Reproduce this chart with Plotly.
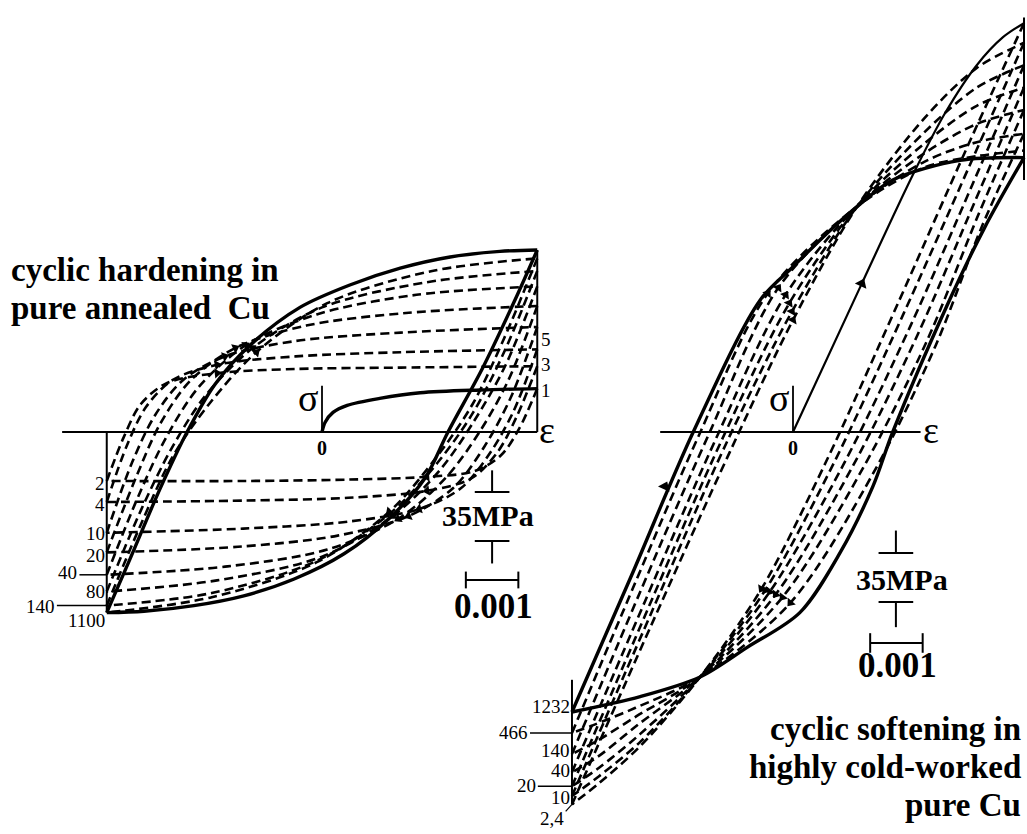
import math
import plotly.graph_objects as go

# ---------------- drawing scale ----------------
# strain is given in units of 1e-3, stress in MPa
PX_PER_MILLISTRAIN = 52.5
PX_PER_MPA = 1.4
W, H = 1027, 834
LEFT_ORIGIN_PX = (322, 432)
RIGHT_ORIGIN_PX = (793, 432)

# ---------------- left panel: cyclic hardening (annealed Cu) ----------------
L_EPS_MIN, L_EPS_MAX = -4.1, 4.1
L_TENS_CYCLES = [1, 3, 5, 9, 19, 39, 79, 139, 1099]
L_TENS_PEAKS = [31, 47, 59, 75, 90, 104, 115, 124, 130]
L_COMP_CYCLES = [2, 4, 10, 20, 40, 80, 140, 1100]
L_COMP_PEAKS = [-35, -50, -72, -86, -102, -114, -124, -129]

# first (monotonic) loading, interior points
L_MONO = [(0.06, 7), (0.21, 14), (0.48, 19), (1.10, 24), (1.87, 28), (3.01, 30)]

# reloading branches: comp peak i -> tension peak i+1 (last one = stable loop)
L_UP = [
    [(-3.78, -4), (-3.45, 20), (-2.95, 35), (-2.00, 42), (-0.50, 45), (1.50, 46)],
    [(-3.72, -10), (-3.35, 18), (-2.85, 37), (-2.00, 48), (-0.50, 54), (1.50, 57)],
    [(-3.62, -22), (-3.18, 12), (-2.65, 37), (-1.85, 54), (-0.50, 65), (1.50, 71)],
    [(-3.56, -34), (-3.08, 6), (-2.50, 37), (-1.65, 60), (-0.30, 76), (1.60, 85)],
    [(-3.50, -46), (-2.97, -4), (-2.35, 32), (-1.45, 62), (-0.10, 84), (1.80, 98)],
    [(-3.45, -56), (-2.87, -12), (-2.22, 26), (-1.32, 60), (0.00, 89), (2.00, 107)],
    [(-3.45, -66), (-2.85, -18), (-2.15, 20), (-1.25, 57), (0.10, 92), (2.10, 115)],
    [(-3.66, -91), (-3.09, -41), (-2.57, 0), (-2.04, 34), (-1.37, 62), (-0.42, 89),
     (0.53, 105), (1.49, 117), (2.44, 125), (3.39, 129)],
]
# unloading branches: tension peak i -> comp peak i (last one = stable loop)
L_DOWN = [
    [(3.75, 2), (3.40, -17), (2.90, -28), (2.00, -32), (0.50, -34), (-1.50, -35)],
    [(3.72, 12), (3.35, -14), (2.85, -33), (2.00, -42), (0.50, -47), (-1.50, -49)],
    [(3.65, 15), (3.20, -15), (2.65, -40), (1.85, -55), (0.50, -64), (-1.50, -69)],
    [(3.60, 25), (3.10, -10), (2.50, -40), (1.65, -60), (0.30, -74), (-1.60, -82)],
    [(3.55, 37), (3.00, 0), (2.35, -33), (1.45, -62), (0.10, -84), (-1.80, -96)],
    [(3.50, 48), (2.90, 8), (2.25, -27), (1.35, -60), (0.00, -89), (-2.00, -106)],
    [(3.48, 58), (2.88, 14), (2.20, -22), (1.30, -58), (-0.10, -92), (-2.10, -115)],
    [(3.47, 67), (2.87, 20), (2.18, -18), (1.28, -57), (-0.10, -93), (-2.10, -118)],
    [(3.66, 93), (3.05, 45), (2.40, 0), (1.96, -33), (1.30, -61), (0.42, -87),
     (-0.53, -105), (-1.49, -117), (-2.44, -124), (-3.39, -128)],
]

# ---------------- right panel: cyclic softening (cold-worked Cu) ----------------
R_EPS_MIN, R_EPS_MAX = -4.21, 4.40
R_TENS_CYCLES = [1, 9, 19, 39, 139, 465, 1231]
R_TENS_PEAKS = [292, 278, 262, 246, 230, 213, 196]
R_LAST_DASHED_PEAK = 201
R_COMP_CYCLES = ["2,4", "10", "20", "40", "140", "466", "1232"]
R_COMP_PEAKS = [-266, -260, -253, -243, -230, -215, -200]

R_MONO = [(1.31, 106), (2.30, 185), (2.90, 228), (3.50, 262), (4.00, 282)]

R_UP = [
    [(-2.70, -138), (-1.20, -14), (0.00, 80), (1.22, 161), (2.50, 224), (3.50, 260)],
    [(-2.72, -131), (-1.27, -8), (-0.02, 86), (1.22, 161), (2.50, 214), (3.50, 246)],
    [(-2.76, -126), (-1.36, -6), (-0.07, 92), (1.22, 161), (2.50, 206), (3.50, 233)],
    [(-2.82, -121), (-1.47, -5), (-0.14, 98), (1.22, 161), (2.50, 199), (3.50, 220)],
    [(-2.92, -115), (-1.62, -3), (-0.28, 103), (1.22, 161), (2.50, 193), (3.50, 207)],
    [(-3.02, -109), (-1.80, -3), (-0.48, 99), (1.22, 161), (2.50, 189), (3.50, 197)],
    [(-3.07, -102), (-1.90, 0), (-0.63, 94), (0.00, 118), (0.65, 142), (1.22, 161),
     (1.90, 180), (3.18, 194)],
]
R_DOWN = [
    [(3.30, 202), (2.00, 92), (0.62, -22), (-0.60, -112), (-1.77, -175), (-2.90, -224), (-3.70, -251)],
    [(3.36, 190), (2.10, 84), (0.78, -22), (-0.53, -113), (-1.77, -175), (-2.90, -221), (-3.70, -246)],
    [(3.42, 177), (2.24, 76), (0.95, -24), (-0.44, -114), (-1.77, -175), (-2.92, -216), (-3.70, -240)],
    [(3.48, 166), (2.38, 70), (1.13, -25), (-0.33, -116), (-1.77, -175), (-2.95, -209), (-3.72, -232)],
    [(3.54, 156), (2.55, 65), (1.33, -26), (-0.20, -118), (-1.77, -175), (-2.98, -203), (-3.75, -221)],
    [(3.60, 147), (2.72, 62), (1.55, -28), (-0.05, -122), (-1.77, -175), (-3.00, -197), (-3.78, -209)],
    [(3.65, 146), (2.93, 90), (1.90, 0), (1.52, -39), (0.90, -86), (0.13, -129), (-0.88, -154),
     (-1.77, -175), (-2.91, -189)],
]

# scale bars (35 MPa and 0.001 strain)
STRESS_BAR_MPA = 35
STRAIN_BAR = 1.0  # = 0.001

fig = go.Figure()

DASH = "9px,5px"
DASH_W = 2.6
SOLID_W = 3.4


def curve(points, axis, dash=None, width=DASH_W):
    xs = [p[0] for p in points]
    ys = [p[1] for p in points]
    fig.add_trace(go.Scatter(
        x=xs, y=ys, mode="lines", xaxis=axis, yaxis="y",
        line=dict(color="black", width=width, dash=dash, shape="spline", smoothing=0.9),
        hoverinfo="skip", showlegend=False))


def seg(x0, y0, x1, y1, axis, width=2.0):
    fig.add_trace(go.Scatter(
        x=[x0, x1], y=[y0, y1], mode="lines", xaxis=axis, yaxis="y",
        line=dict(color="black", width=width),
        hoverinfo="skip", showlegend=False))


def heading(p, q):
    # screen direction of travel from p to q, degrees clockwise from up
    dx = (q[0] - p[0]) * PX_PER_MILLISTRAIN
    dy = (q[1] - p[1]) * PX_PER_MPA
    return math.degrees(math.atan2(dx, dy))


def arrows(xs, ys, angles, axis, size=10):
    fig.add_trace(go.Scatter(
        x=xs, y=ys, mode="markers", xaxis=axis, yaxis="y",
        marker=dict(symbol="triangle-up", size=size, angle=angles, color="black",
                    line=dict(width=0)),
        hoverinfo="skip", showlegend=False))


def branch_arrows(branches, idx, axis, size=9):
    xs, ys, an = [], [], []
    for pts in branches:
        k = min(idx, len(pts) - 2)
        xs.append(pts[k][0])
        ys.append(pts[k][1])
        an.append(heading(pts[k - 1], pts[k + 1]))
    arrows(xs, ys, an, axis, size)


# ---- left panel loops ----
left_up, left_down = [], []
for i, inner in enumerate(L_UP):
    pts = [(L_EPS_MIN, L_COMP_PEAKS[i])] + inner + [(L_EPS_MAX, L_TENS_PEAKS[i + 1])]
    stable = i == len(L_UP) - 1
    curve(pts, "x", None if stable else DASH, SOLID_W if stable else DASH_W)
    left_up.append(pts)
for i, inner in enumerate(L_DOWN):
    stable = i == len(L_DOWN) - 1
    t = L_TENS_PEAKS[-1] if stable else L_TENS_PEAKS[i]
    c = L_COMP_PEAKS[-1] if stable else L_COMP_PEAKS[i]
    pts = [(L_EPS_MAX, t)] + inner + [(L_EPS_MIN, c)]
    curve(pts, "x", None if stable else DASH, SOLID_W if stable else DASH_W)
    left_down.append(pts)
curve([(0, 0)] + L_MONO + [(L_EPS_MAX, L_TENS_PEAKS[0])], "x", None, SOLID_W)
branch_arrows(left_up[:-1], 4, "x")
branch_arrows(left_down[:-1], 4, "x")

# left panel axes
seg(-4.95, 0, L_EPS_MAX, 0, "x", 2.0)
seg(L_EPS_MIN, 0, L_EPS_MIN, L_COMP_PEAKS[-1], "x", 2.0)
seg(L_EPS_MAX, 0, L_EPS_MAX, L_TENS_PEAKS[-1], "x", 2.0)
seg(0, 0, 0, 33, "x", 1.8)
# leader lines for 40 and 140
seg(-4.62, L_COMP_PEAKS[4], L_EPS_MIN, L_COMP_PEAKS[4], "x", 1.5)
seg(-5.05, L_COMP_PEAKS[6], L_EPS_MIN, L_COMP_PEAKS[6], "x", 1.5)

# left scale bars
LSB_X, LSB_Y = 3.24, -42.9
seg(LSB_X, LSB_Y, LSB_X, LSB_Y + 15.5, "x")
seg(LSB_X - 0.33, LSB_Y, LSB_X + 0.33, LSB_Y, "x")
seg(LSB_X - 0.33, LSB_Y - STRESS_BAR_MPA, LSB_X + 0.33, LSB_Y - STRESS_BAR_MPA, "x")
seg(LSB_X, LSB_Y - STRESS_BAR_MPA, LSB_X, LSB_Y - STRESS_BAR_MPA - 16, "x")
LSB_E0, LSB_S = 2.74, -105.7
seg(LSB_E0, LSB_S, LSB_E0 + STRAIN_BAR, LSB_S, "x")
seg(LSB_E0, LSB_S - 6, LSB_E0, LSB_S + 6, "x")
seg(LSB_E0 + STRAIN_BAR, LSB_S - 6, LSB_E0 + STRAIN_BAR, LSB_S + 6, "x")

# ---- right panel loops ----
right_up, right_down = [], []
for i, inner in enumerate(R_UP):
    stable = i == len(R_UP) - 1
    c = R_COMP_PEAKS[-1] if stable else R_COMP_PEAKS[i]
    if stable:
        t = R_TENS_PEAKS[-1]
    elif i + 1 < len(R_TENS_PEAKS) - 1:
        t = R_TENS_PEAKS[i + 1]
    else:
        t = R_LAST_DASHED_PEAK
    pts = [(R_EPS_MIN, c)] + inner + [(R_EPS_MAX, t)]
    curve(pts, "x2", None if stable else DASH, SOLID_W if stable else DASH_W)
    right_up.append(pts)
for i, inner in enumerate(R_DOWN):
    stable = i == len(R_DOWN) - 1
    pts = [(R_EPS_MAX, R_TENS_PEAKS[i])] + inner + [(R_EPS_MIN, R_COMP_PEAKS[i])]
    curve(pts, "x2", None if stable else DASH, SOLID_W if stable else DASH_W)
    right_down.append(pts)
mono_r = [(0, 0)] + R_MONO + [(R_EPS_MAX, R_TENS_PEAKS[0])]
curve(mono_r, "x2", None, 2.2)
branch_arrows(right_up[:-1], 3, "x2")
branch_arrows(right_down[:-1], 4, "x2")
arrows([R_MONO[0][0]], [R_MONO[0][1]], [heading(mono_r[0], mono_r[2])], "x2", 11)
stable_up = right_up[-1]
arrows([-2.44], [-39], [heading(stable_up[1], stable_up[3])], "x2", 11)

seg(-2.53, 0, 2.43, 0, "x2", 2.0)
seg(R_EPS_MIN, R_COMP_PEAKS[-1] + 23, R_EPS_MIN, R_COMP_PEAKS[0], "x2", 2.0)
seg(R_EPS_MAX, R_TENS_PEAKS[0] + 4, R_EPS_MAX, 180, "x2", 2.0)
seg(0, 0, 0, 33, "x2", 1.8)
seg(-5.01, R_COMP_PEAKS[5], R_EPS_MIN, R_COMP_PEAKS[5], "x2", 1.5)
seg(-4.86, R_COMP_PEAKS[2], R_EPS_MIN, R_COMP_PEAKS[2], "x2", 1.5)
seg(R_EPS_MIN, R_COMP_PEAKS[0], R_EPS_MIN - 0.12, R_COMP_PEAKS[0] - 5, "x2", 1.2)

RSB_X, RSB_Y = 1.96, -86.4
seg(RSB_X, RSB_Y, RSB_X, RSB_Y + 16, "x2")
seg(RSB_X - 0.33, RSB_Y, RSB_X + 0.33, RSB_Y, "x2")
seg(RSB_X - 0.33, RSB_Y - STRESS_BAR_MPA, RSB_X + 0.33, RSB_Y - STRESS_BAR_MPA, "x2")
seg(RSB_X, RSB_Y - STRESS_BAR_MPA, RSB_X, RSB_Y - STRESS_BAR_MPA - 18, "x2")
RSB_E0, RSB_S = 1.47, -150.7
seg(RSB_E0, RSB_S, RSB_E0 + STRAIN_BAR, RSB_S, "x2")
seg(RSB_E0, RSB_S - 7, RSB_E0, RSB_S + 7, "x2")
seg(RSB_E0 + STRAIN_BAR, RSB_S - 7, RSB_E0 + STRAIN_BAR, RSB_S + 7, "x2")

# ---------------- text ----------------
SERIF = "Liberation Serif"
LABEL_SIZE = 19
TITLE_SIZE = 33
ann = []


def txt(text, x, y, xref, size, bold=False, xanchor="center", yanchor="middle",
        xshift=0, yshift=0):
    t = "<b>%s</b>" % text if bold else text
    ann.append(dict(text=t, x=x, y=y, xref=xref, yref="y" if xref != "paper" else "paper",
                    showarrow=False, xanchor=xanchor, yanchor=yanchor,
                    xshift=xshift, yshift=yshift, borderpad=0,
                    font=dict(family=SERIF, size=size, color="black")))


# titles
txt("cyclic hardening in", 10 / W, 1 - 270 / H, "paper", TITLE_SIZE, True, "left")
txt("pure annealed  Cu", 10 / W, 1 - 308 / H, "paper", TITLE_SIZE, True, "left")
txt("cyclic softening in", 1022 / W, 1 - 729 / H, "paper", TITLE_SIZE, True, "right")
txt("highly cold-worked", 1022 / W, 1 - 767 / H, "paper", TITLE_SIZE, True, "right")
txt("pure Cu", 1022 / W, 1 - 805 / H, "paper", TITLE_SIZE, True, "right")

# left panel symbols
txt("σ", 0, 0, "x", 38, False, "right", "middle", xshift=-3, yshift=34)
txt("0", 0, 0, "x", 20, True, "center", "middle", yshift=-16)
txt("ε", L_EPS_MAX, 0, "x", 38, False, "left", "middle", xshift=1, yshift=2)
# labels of the first three tensile peaks (cycles 1, 3, 5)
for cyc, pk, dy in zip(L_TENS_CYCLES[:3], L_TENS_PEAKS[:3], [-2, 2, 10]):
    txt(str(cyc), L_EPS_MAX, pk, "x", LABEL_SIZE, False, "left", "middle", xshift=3, yshift=dy)
left_pos = {2: (L_EPS_MIN, -2), 4: (L_EPS_MIN, -2), 10: (L_EPS_MIN, -1),
            20: (L_EPS_MIN, -3), 40: (-4.62, 2), 80: (L_EPS_MIN, 0),
            140: (-5.05, -1), 1100: (L_EPS_MIN, -8)}
for cyc, pk in zip(L_COMP_CYCLES, L_COMP_PEAKS):
    xx, dy = left_pos[cyc]
    txt(str(cyc), xx, pk, "x", LABEL_SIZE, False, "right", "middle", xshift=-1, yshift=dy)
txt("35MPa", LSB_X, LSB_Y - STRESS_BAR_MPA / 2, "x", 30, True, yshift=1, xshift=-4)
txt("0.001", LSB_E0 + STRAIN_BAR / 2, LSB_S, "x", 35, True, yshift=-27, xshift=1)

# right panel symbols
txt("σ", 0, 0, "x2", 38, False, "right", "middle", xshift=-3, yshift=34)
txt("0", 0, 0, "x2", 20, True, "center", "middle", yshift=-16)
txt("ε", 2.43, 0, "x2", 38, False, "left", "middle", xshift=1, yshift=2)
right_pos = {"2,4": (R_EPS_MIN - 0.12, -14), "10": (R_EPS_MIN, -1), "20": (-4.86, 1),
             "40": (R_EPS_MIN, 2), "140": (R_EPS_MIN, 4), "466": (-5.01, 1),
             "1232": (R_EPS_MIN, 6)}
for cyc, pk in zip(R_COMP_CYCLES, R_COMP_PEAKS):
    xx, dy = right_pos[cyc]
    txt(cyc, xx, pk, "x2", LABEL_SIZE, False, "right", "middle", xshift=-1, yshift=dy)
txt("35MPa", RSB_X, RSB_Y - STRESS_BAR_MPA / 2, "x2", 30, True, yshift=-2, xshift=6)
txt("0.001", RSB_E0 + STRAIN_BAR / 2, RSB_S, "x2", 35, True, yshift=-23, xshift=1)

fig.update_layout(
    width=W, height=H,
    margin=dict(l=0, r=0, t=0, b=0),
    paper_bgcolor="white", plot_bgcolor="white",
    showlegend=False,
    annotations=ann,
    xaxis=dict(range=[-LEFT_ORIGIN_PX[0] / PX_PER_MILLISTRAIN,
                      (W - LEFT_ORIGIN_PX[0]) / PX_PER_MILLISTRAIN],
               visible=False, domain=[0, 1], fixedrange=True),
    xaxis2=dict(range=[-RIGHT_ORIGIN_PX[0] / PX_PER_MILLISTRAIN,
                       (W - RIGHT_ORIGIN_PX[0]) / PX_PER_MILLISTRAIN],
                visible=False, overlaying="x", anchor="y", fixedrange=True),
    yaxis=dict(range=[-(H - LEFT_ORIGIN_PX[1]) / PX_PER_MPA, LEFT_ORIGIN_PX[1] / PX_PER_MPA],
               visible=False, domain=[0, 1], fixedrange=True),
)

fig.write_html("out.html")
